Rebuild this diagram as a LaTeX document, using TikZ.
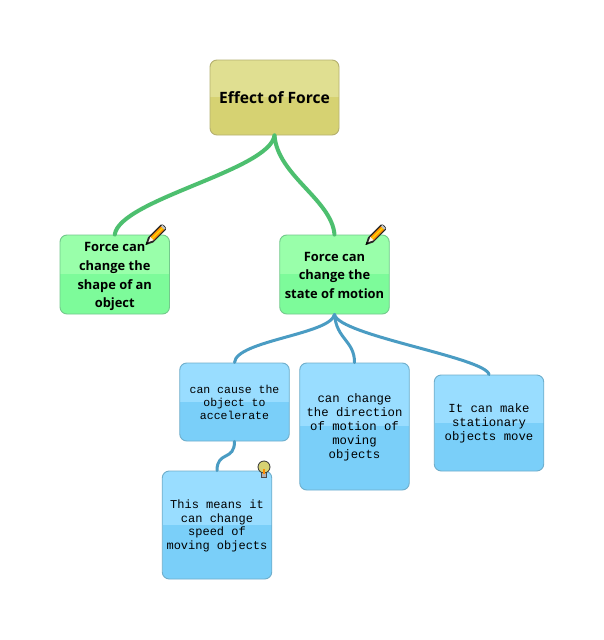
\documentclass[tikz,border=0pt]{standalone}
\usepackage{fontspec}
\setmainfont{Open Sans}
\setmonofont{Liberation Mono}
\definecolor{rootup}{HTML}{E0DF91}
\definecolor{rootlow}{HTML}{D6D272}
\definecolor{rootline}{HTML}{B5B070}
\definecolor{greenup}{HTML}{99FFAA}
\definecolor{greenlow}{HTML}{7DFB9A}
\definecolor{greenline}{HTML}{74C98C}
\definecolor{blueup}{HTML}{99DDFF}
\definecolor{bluelow}{HTML}{7ACFF9}
\definecolor{blueline}{HTML}{6FAECB}
\definecolor{greenlink}{HTML}{4DBF6F}
\definecolor{bluelink}{HTML}{4A9CC3}
\tikzset{
  card/.style n args={3}{draw=#3,line width=0.9pt,rounded corners=7pt,fill=#2,align=center,inner sep=0pt,
    path picture={\fill[#1,sharp corners] (path picture bounding box.north west) rectangle ([yshift=0.5pt]path picture bounding box.east);}},
  rootcard/.style={card={rootup}{rootlow}{rootline},minimum width=129pt,minimum height=75pt,font=\fontsize{15.6}{18}\selectfont\bfseries},
  greencard/.style={card={greenup}{greenlow}{greenline},minimum width=109.5pt,minimum height=79pt,font=\fontsize{12.9}{18.6}\selectfont\bfseries},
  bluecard/.style={card={blueup}{bluelow}{blueline},minimum width=109.5pt,font=\fontsize{12.3}{14}\selectfont\ttfamily},
  greenedge/.style={draw=greenlink,line width=4pt,line cap=round},
  blueedge/.style={draw=bluelink,line width=3pt,line cap=round},
  pencilicon/.pic={
    \begin{scope}[rotate=45]
      \fill[black!85] (0,-3.6) -- (18,-3.6) arc (-90:90:2 and 3.6) -- (0,3.6) -- (-7,0) -- cycle;
      \fill[orange!85!yellow] (2,-2.3) rectangle (17,2.3);
      \fill[yellow!70!orange] (2,-0.6) rectangle (17,0.8);
      \fill[gray!45] (17,-2.3) rectangle (19,2.3);
      \fill[white!90!orange] (2,-2.3) -- (-3,0) -- (2,2.3) -- cycle;
      \fill[black] (-7,0) -- (-4,-1.5) -- (-4,1.5) -- cycle;
    \end{scope}
  },
  bulbicon/.pic={
    \fill[gray!60,draw=black!70,line width=0.5pt] (-2.5,3) -- (-2.5,9.5) -- (2.5,9.5) -- (2.5,3) -- cycle;
    \fill[rootlow,draw=black!80,line width=0.8pt] (0,-1) circle (6);
    \fill[orange!90!yellow] (-0.8,1) rectangle (0.8,6);
  }
}
\begin{document}
\begin{tikzpicture}[x=1pt,y=-1pt]
\useasboundingbox (0,0) rectangle (604,640);
\fill[white] (0,0) rectangle (604,640);
\node[rootcard] (root) at (274.5,97.5) {Effect of Force};
\node[greencard] (shape) at (114.75,274.5) {\rule{0pt}{13.5pt}Force can\\change the\\shape of an\\object};
\node[greencard] (state) at (334.5,274.5) {\rule{0pt}{10.5pt}Force can\\change the\\state of motion};
\node[bluecard,minimum height=78pt,font=\fontsize{11.5}{13}\selectfont\ttfamily] (accel) at (234.5,402) {can cause the\\object to\\accelerate};
\node[bluecard,minimum height=127pt] (dir) at (354.5,426.5) {\rule{0pt}{10.5pt}can change\\the direction\\of motion of\\moving\\objects};
\node[bluecard,minimum height=96pt] (still) at (489,423) {It can make\\stationary\\objects move};
\node[bluecard,minimum height=108pt,font=\fontsize{12}{13.7}\selectfont\ttfamily] (speed) at (217,525) {\rule{0pt}{10.5pt}This means it\\can change\\speed of\\moving objects};
\draw[greenedge] (root.south) .. controls +(-5,35) and +(5,-35) .. (shape.north);
\draw[greenedge] (root.south) .. controls +(3,40) and +(-3,-35) .. (state.north);
\draw[blueedge] (state.south) .. controls +(-4,20) and +(1.5,-22) .. (accel.north);
\draw[blueedge] (state.south) .. controls +(2,25) and +(0,-22) .. (dir.north);
\draw[blueedge] (state.south) .. controls +(4,21) and +(-3,-17) .. (still.north);
\draw[blueedge] (accel.south) .. controls +(0,20) and +(0,-20) .. (speed.north);
\pic at (150.5,240) {pencilicon};
\pic at (370.5,240) {pencilicon};
\pic at (264,468) {bulbicon};
\end{tikzpicture}
\end{document}
